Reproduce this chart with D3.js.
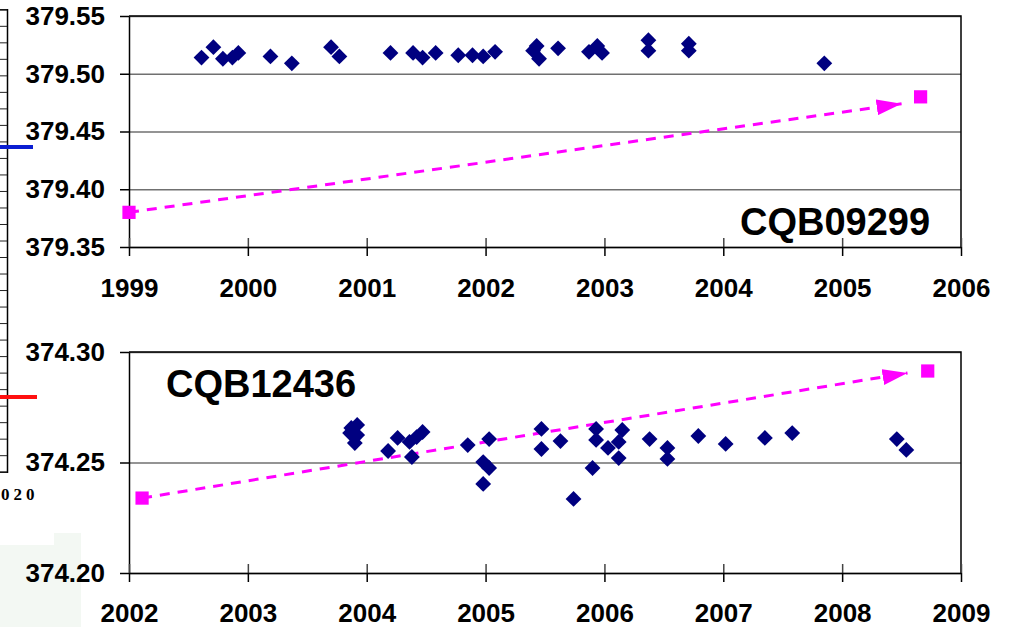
<!DOCTYPE html>
<html>
<head>
<meta charset="utf-8">
<script src="https://cdn.jsdelivr.net/npm/d3@7"></script>
<style>
  body { margin: 0; background: #fff; }
  svg { display: block; font-family: "Liberation Sans", Arial, sans-serif; }
  .tick text { font-weight: bold; font-size: 26px; fill: #000; }
</style>
</head>
<body>
<svg></svg>
<script>
// CQB09299 record (decimal years, ppm)
var topDates = [1999.61, 1999.71, 1999.79, 1999.87, 1999.92, 2000.19, 2000.37, 2000.70, 2000.77,
      2001.20, 2001.39, 2001.47, 2001.58, 2001.77, 2001.89, 2001.98, 2002.08, 2002.40, 2002.43,
      2002.45, 2002.61, 2002.87, 2002.94, 2002.98, 2003.37, 2003.37, 2003.71, 2003.71, 2004.85];
var topValues = [379.514, 379.523, 379.513, 379.514, 379.518, 379.515, 379.509, 379.523, 379.515,
      379.518, 379.518, 379.514, 379.518, 379.516, 379.516, 379.515, 379.519, 379.520, 379.524,
      379.513, 379.522, 379.519, 379.524, 379.518, 379.529, 379.520, 379.526, 379.520, 379.509];
var topTrendDates = [1999.0, 2005.66];
var topTrendValues = [379.380, 379.480];
var topArrowTip = [2005.50, 379.474];
var topYTicks = [379.35, 379.40, 379.45, 379.50, 379.55];
var topXTicks = [1999, 2000, 2001, 2002, 2003, 2004, 2005, 2006];

// CQB12436 record
var bottomDates = [2003.87, 2003.92, 2003.86, 2003.92, 2003.90, 2004.18, 2004.26, 2004.38, 2004.36,
      2004.42, 2004.47, 2004.85, 2005.03, 2004.98, 2005.03, 2004.98, 2005.47, 2005.47, 2005.63,
      2005.74, 2005.90, 2005.93, 2005.93, 2006.03, 2006.12, 2006.12, 2006.15, 2006.38, 2006.53,
      2006.53, 2006.79, 2007.02, 2007.35, 2007.58, 2008.46, 2008.54];
var bottomValues = [374.2656, 374.2670, 374.2633, 374.2624, 374.2588, 374.2552, 374.2611, 374.2525, 374.2593,
      374.2615, 374.2638, 374.2579, 374.2606, 374.2502, 374.2475, 374.2403, 374.2652, 374.2561, 374.2597,
      374.2335, 374.2475, 374.2652, 374.2602, 374.2566, 374.2520, 374.2593, 374.2647, 374.2606, 374.2566,
      374.2516, 374.2620, 374.2584, 374.2611, 374.2633, 374.2606, 374.2557];
var bottomTrendDates = [2002.11, 2008.72];
var bottomTrendValues = [374.2339, 374.2914];
var bottomArrowTip = [2008.55, 374.2905];
var bottomYTicks = [374.20, 374.25, 374.30];
var bottomXTicks = [2002, 2003, 2004, 2005, 2006, 2007, 2008, 2009];

var width = 1009;
var height = 627;
var left = 129, right = 961;

var svg = d3.select("svg")
      .attr("width", width)
      .attr("height", height);

// arrow head for the trend lines
svg.append("defs").append("marker")
      .attr("id", "arrow")
      .attr("markerUnits", "userSpaceOnUse")
      .attr("viewBox", "0 0 25 16")
      .attr("markerWidth", 25)
      .attr("markerHeight", 16)
      .attr("refX", 25)
      .attr("refY", 8)
      .attr("orient", "auto")
      .append("path")
      .attr("d", "M0,0 L25,8 L0,16 Z")
      .attr("fill", "#ff00ff");

// leftovers of the neighbouring figure on the slide
var deco = svg.append("g");
deco.append("path").attr("d", "M0,545 H54 V533 H81 V627 H0 Z").attr("fill", "#f3f8f3");
var rulerScale = d3.scaleLinear().domain([0, 28]).range([9.3, 471.7]);
deco.append("g")
      .attr("transform", "translate(7,0)")
      .call(d3.axisLeft(rulerScale).ticks(28).tickSize(7).tickFormat(""))
      .call(g => g.select(".domain").attr("stroke-width", 1.5))
      .call(g => g.selectAll(".tick line").attr("stroke", "#222").attr("stroke-width", 1));
deco.append("line").attr("x1", 0).attr("x2", 33).attr("y1", 147).attr("y2", 147)
      .attr("stroke", "#0a1ed2").attr("stroke-width", 4);
deco.append("line").attr("x1", 0).attr("x2", 37).attr("y1", 397).attr("y2", 397)
      .attr("stroke", "#ff1010").attr("stroke-width", 4);
deco.append("text").attr("x", 1).attr("y", 500)
      .style("font-family", "Liberation Serif, serif")
      .style("font-weight", "bold")
      .style("font-size", "17px")
      .style("letter-spacing", "4px")
      .text("020");

function drawPanel(cfg) {
      var x = d3.scaleLinear().domain(cfg.xDomain).range([left, right]);
      var y = d3.scaleLinear().domain(cfg.yDomain).range([cfg.bottom, cfg.top]);
      var g = svg.append("g");

      // gridlines
      g.append("g")
            .attr("transform", "translate(" + left + ",0)")
            .call(d3.axisLeft(y).tickValues(cfg.yTicks).tickSize(-(right - left)).tickFormat(""))
            .call(a => a.select(".domain").remove())
            .call(a => a.selectAll(".tick line").attr("stroke", "#707070").attr("stroke-width", 1.5));

      // frame
      g.append("path")
            .attr("d", "M" + left + "," + cfg.top + " H" + right + " V" + cfg.bottom)
            .attr("fill", "none").attr("stroke", "#000").attr("stroke-width", 1.5);

      // y axis
      g.append("g")
            .attr("transform", "translate(" + left + ",0)")
            .call(d3.axisLeft(y).tickValues(cfg.yTicks).tickSizeInner(9).tickSizeOuter(0)
                  .tickPadding(15).tickFormat(d3.format(".2f")))
            .call(a => a.selectAll("line, path").attr("stroke", "#000").attr("stroke-width", 1.5));

      // x axis, ticks cross the axis line
      g.append("g")
            .attr("transform", "translate(0," + cfg.bottom + ")")
            .call(d3.axisBottom(x).tickValues(cfg.xTicks).tickSizeInner(-9).tickSizeOuter(0).tickFormat(""))
            .call(a => a.select(".domain").remove())
            .call(a => a.selectAll("line").attr("stroke", "#444").attr("stroke-width", 1.5));
      g.append("g")
            .attr("transform", "translate(0," + cfg.bottom + ")")
            .call(d3.axisBottom(x).tickValues(cfg.xTicks).tickSizeInner(9).tickSizeOuter(0)
                  .tickPadding(cfg.xPad).tickFormat(d3.format("d")))
            .call(a => a.selectAll("line, path").attr("stroke", "#000").attr("stroke-width", 1.5));

      // trend arrow and end squares
      g.append("line")
            .attr("x1", x(cfg.trendDates[0])).attr("y1", y(cfg.trendValues[0]))
            .attr("x2", x(cfg.arrowTip[0])).attr("y2", y(cfg.arrowTip[1]))
            .attr("stroke", "#ff00ff").attr("stroke-width", 3)
            .attr("stroke-dasharray", "10,8")
            .attr("marker-end", "url(#arrow)");
      g.selectAll(".trend")
            .data(cfg.trendDates)
            .enter()
            .append("path")
                  .attr("d", d3.symbol(d3.symbolSquare, 175))
                  .attr("transform", (d, i) => "translate(" + x(d) + "," + y(cfg.trendValues[i]) + ")")
                  .attr("fill", "#ff00ff");

      // measurements
      g.selectAll(".pt")
            .data(cfg.dates)
            .enter()
            .append("path")
                  .attr("d", d3.symbol(d3.symbolSquare, 125))
                  .attr("transform", (d, i) => "translate(" + x(d) + "," + y(cfg.values[i]) + ") rotate(45)")
                  .attr("fill", "#000080");

      g.append("text")
            .attr("x", cfg.labelX).attr("y", cfg.labelY)
            .attr("text-anchor", "middle")
            .style("font-weight", "bold")
            .style("font-size", "38px")
            .text(cfg.label);
}

drawPanel({
      xDomain: [1999, 2006], yDomain: [379.35, 379.55], top: 16, bottom: 247,
      xTicks: topXTicks, yTicks: topYTicks, xPad: 23,
      dates: topDates, values: topValues,
      trendDates: topTrendDates, trendValues: topTrendValues, arrowTip: topArrowTip,
      label: "CQB09299", labelX: 835, labelY: 235
});

drawPanel({
      xDomain: [2002, 2009], yDomain: [374.20, 374.30], top: 352, bottom: 573,
      xTicks: bottomXTicks, yTicks: bottomYTicks, xPad: 22,
      dates: bottomDates, values: bottomValues,
      trendDates: bottomTrendDates, trendValues: bottomTrendValues, arrowTip: bottomArrowTip,
      label: "CQB12436", labelX: 261, labelY: 397
});
</script>
</body>
</html>
